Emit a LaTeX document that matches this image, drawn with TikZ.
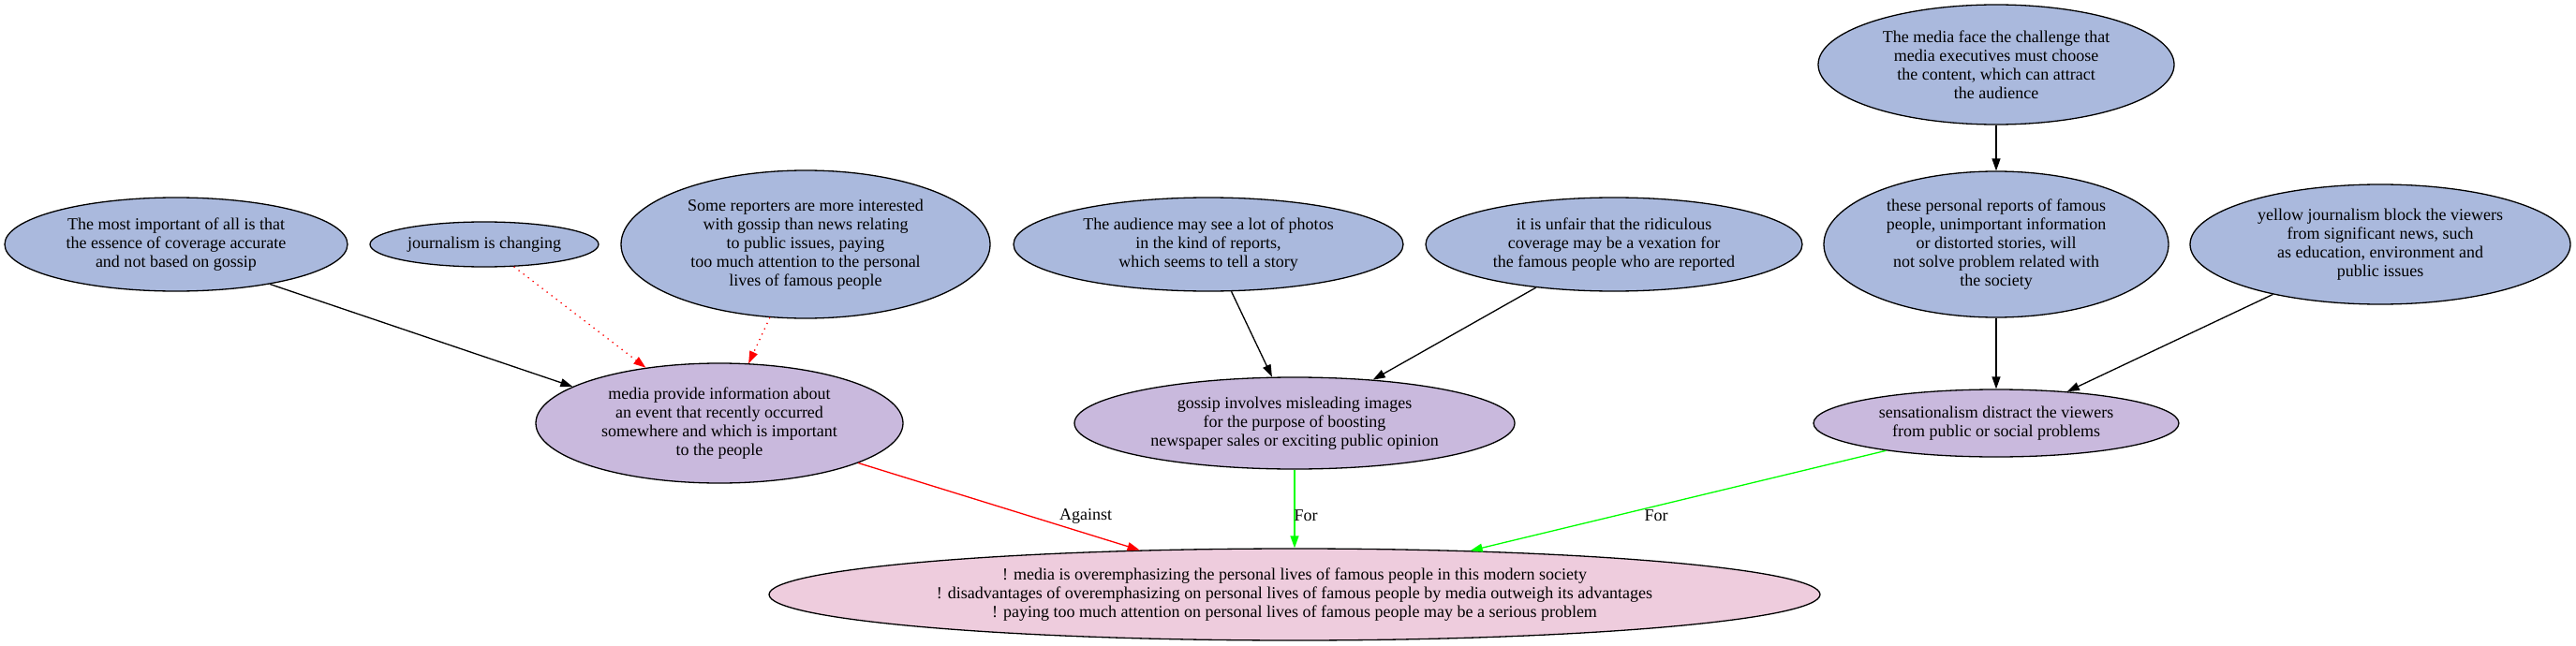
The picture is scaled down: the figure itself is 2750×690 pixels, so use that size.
\documentclass[tikz,border=0pt]{standalone}
\usepackage{fontspec}
\setmainfont{Liberation Serif}
\usetikzlibrary{arrows.meta,shapes.geometric}
\definecolor{premise}{RGB}{170,185,221}
\definecolor{claim}{RGB}{201,185,221}
\definecolor{thesis}{RGB}{238,204,221}
\tikzset{
  arg/.style={ellipse, draw, line width=1.3pt, inner sep=0pt, align=center},
  prem/.style={arg, fill=premise},
  supp/.style={arg, fill=claim},
  link/.style={line width=1.3pt, -{Triangle[length=13pt,width=9pt]}},
  dots/.style={link, red, dash pattern=on 1.3pt off 5pt},
}

\begin{document}
\begin{tikzpicture}[x=1pt,y=-1pt,font=\fontsize{18}{20}\selectfont]
\useasboundingbox (0,0) rectangle (2750,690);
\node[prem, minimum width=366, minimum height=100] (imp) at (188,261) {The most important of all is that\\the essence of coverage accurate\\and not based on gossip};
\node[prem, minimum width=244, minimum height=48] (jour) at (517,261) {journalism is changing};
\node[prem, minimum width=394, minimum height=158] (rep) at (860,261) {Some reporters are more interested\\with gossip than news relating\\to public issues, paying\\too much attention to the personal\\lives of famous people};
\node[prem, minimum width=416, minimum height=100] (aud) at (1290,261) {The audience may see a lot of photos\\in the kind of reports,\\which seems to tell a story};
\node[prem, minimum width=402, minimum height=100] (unf) at (1723,261) {it is unfair that the ridiculous\\coverage may be a vexation for\\the famous people who are reported};
\node[prem, minimum width=380, minimum height=128] (top) at (2131,69) {The media face the challenge that\\media executives must choose\\the content, which can attract\\the audience};
\node[prem, minimum width=368, minimum height=156] (pers) at (2131,261) {these personal reports of famous\\people, unimportant information\\or distorted stories, will\\not solve problem related with\\the society};
\node[prem, minimum width=406, minimum height=128] (yel) at (2541,261) {yellow journalism block the viewers\\from significant news, such\\as education, environment and\\public issues};
\node[supp, minimum width=392, minimum height=128] (med) at (768,452) {media provide information about\\an event that recently occurred\\somewhere and which is important\\to the people};
\node[supp, minimum width=470, minimum height=98] (gos) at (1382,452) {gossip involves misleading images\\for the purpose of boosting\\newspaper sales or exciting public opinion};
\node[supp, minimum width=390, minimum height=72] (sens) at (2131,452) {sensationalism distract the viewers\\from public or social problems};
\node[arg, fill=thesis, minimum width=1122, minimum height=98] (main) at (1382,635) {! media is overemphasizing the personal lives of famous people in this modern society\\! disadvantages of overemphasizing on personal lives of famous people by media outweigh its advantages\\! paying too much attention on personal lives of famous people may be a serious problem};
\foreach \a/\b in {imp.-23/med.166, aud.-64/gos.116, unf.-151/gos.29, top.south/pers.north, pers.south/sens.north, yel.-155/sens.24}
  \draw[link] (\a) -- (\b);
\draw[dots] (jour.-37) -- (med.143);
\draw[dots] (rep.-116) -- (med.64);
\draw[link, red] (med.-16) -- (main.164);
\draw[link, green] (gos.south) -- (main.north);
\draw[link, green] (sens.-166) -- (main.14);
\node (against) at (1159,551) {Against};
\node (forgos) at (1394,551) {For};
\node (forsens) at (1768,551) {For};
\end{tikzpicture}
\end{document}
